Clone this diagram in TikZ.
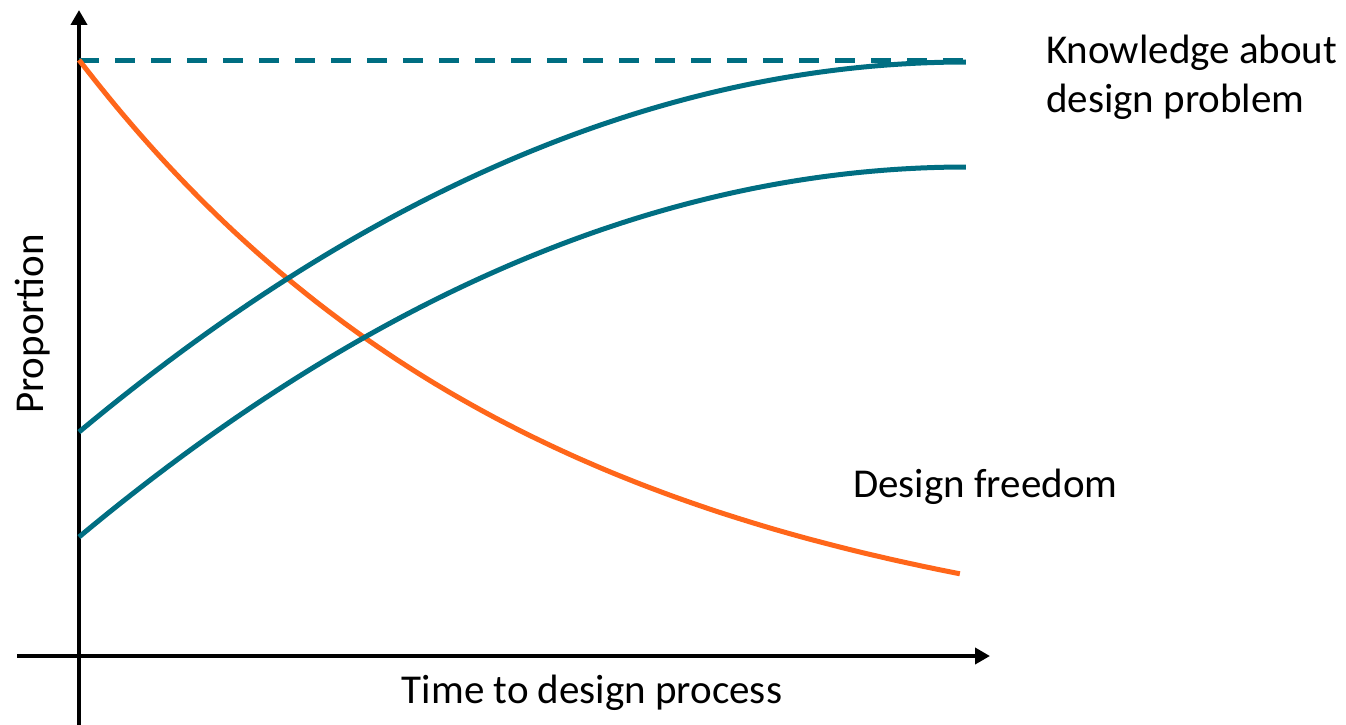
\documentclass[tikz,border=0pt]{standalone}
\usepackage{fontspec}
\setmainfont{Carlito}
\usetikzlibrary{arrows.meta}
\definecolor{teal2}{RGB}{0,110,130}
\definecolor{orng}{RGB}{255,102,26}
\tikzset{
  axis/.style={line width=4pt, -{Triangle[length=15pt,width=16pt]}},
  tealcurve/.style={line width=5pt, teal2},
  orngcurve/.style={line width=5pt, orng},
  lbl/.style={font=\fontsize{41}{49}\selectfont, inner sep=0pt, align=left}
}
\begin{document}
\begin{tikzpicture}[x=1pt,y=-1pt]
\useasboundingbox (0,0) rectangle (1346,725);
\coordinate (yb) at (79,725);
\coordinate (yt) at (79,10);
\coordinate (xl) at (17,656);
\coordinate (xr) at (990,656);
\coordinate (ks) at (79,61);
\coordinate (ke) at (967,61);
\draw[axis] (yb) -- (yt);
\draw[axis] (xl) -- (xr);
\draw[tealcurve, dash pattern=on 20pt off 16pt] (ks) -- (ke);
\draw[orngcurve] plot[domain=0:1, samples=120] ({79+882*\x}, {60+514*(1-exp(-1.9*\x))/(1-exp(-1.9))});
\draw[tealcurve] plot[domain=0:1, samples=120] ({79+888*\x}, {432-370*(1-(1-\x)*(1-\x))});
\draw[tealcurve] plot[domain=0:1, samples=120] ({79+888*\x}, {537-370*(1-(1-\x)*(1-\x))});
\node[lbl, anchor=base west] (know) at (1046,112) {Knowledge about\\design problem};
\node[lbl, anchor=base west] (free) at (853,497) {Design freedom};
\node[lbl, anchor=base] (time) at (592,703) {Time to design process};
\node[lbl, anchor=base, rotate=90] (prop) at (43,324) {Proportion};
\end{tikzpicture}
\end{document}
